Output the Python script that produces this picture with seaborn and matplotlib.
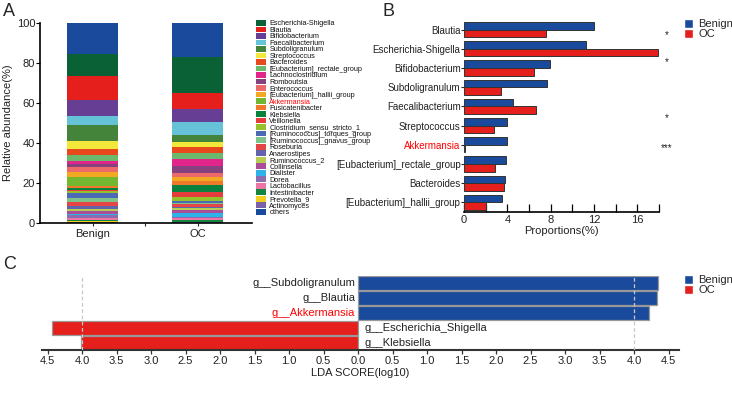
import numpy as np
import pandas as pd
import matplotlib
matplotlib.use("Agg")
import matplotlib.pyplot as plt
import seaborn as sns
from matplotlib.patches import Patch
from matplotlib.ticker import MultipleLocator, FixedLocator

sns.set_theme(style="white")
plt.rcParams["font.family"] = ["Liberation Sans", "DejaVu Sans"]

# ---------------- Panel A data ----------------
groups = ["Benign", "OC"]
genera = ["Escherichia-Shigella", "Blautia", "Bifidobacterium", "Faecalibacterium",
          "Subdoligranulum", "Streptococcus", "Bacteroides", "[Eubacterium]_rectale_group",
          "Lachnoclostridium", "Romboutsia", "Enterococcus", "[Eubacterium]_hallii_group",
          "Akkermansia", "Fusicatenibacter", "Klebsiella", "Veillonella",
          "Clostridium_sensu_stricto_1", "[Ruminococcus]_torques_group",
          "[Ruminococcus]_gnavus_group", "Roseburia", "Anaerostipes", "Ruminococcus_2",
          "Collinsella", "Dialister", "Dorea", "Lactobacillus", "Intestinibacter",
          "Prevotella_9", "Actinomyces", "others"]
genus_colors = ["#0b6136", "#e41f1c", "#663f94", "#66c2d6", "#43843a", "#f2e83c",
                "#e8491c", "#6cb86c", "#e2258a", "#85427f", "#ec6a6a", "#f3a823",
                "#72b72f", "#f07a2a", "#0b8140", "#e63c3c", "#95c22b", "#4a6ab5",
                "#7dc38a", "#e64545", "#6163ad", "#b7cc52", "#aa4e9a", "#2eb3e8",
                "#8a6cb0", "#ec74a6", "#15843f", "#f2cf1f", "#7b62a8", "#1a4a9c"]
benign_abund = [11.0, 12.0, 8.0, 4.5, 7.8, 4.0, 3.0, 2.8, 1.7, 1.7, 2.2, 2.8, 4.2, 1.2,
                0.8, 0.8, 1.0, 2.3, 1.8, 2.3, 1.3, 1.3, 1.2, 0.8, 1.2, 1.0, 0.6, 0.5,
                0.5, 15.7]
oc_abund = [18.2, 7.7, 6.5, 6.6, 3.5, 2.5, 3.3, 2.5, 3.7, 3.3, 2.2, 2.0, 0.05, 2.0,
            3.5, 2.5, 2.0, 0.8, 0.8, 1.2, 0.8, 1.0, 1.2, 2.0, 0.8, 0.7, 1.0, 0.3,
            0.3, 16.75]

# ---------------- Panel B data ----------------
b_genera = ["Blautia", "Escherichia-Shigella", "Bifidobacterium", "Subdoligranulum",
            "Faecalibacterium", "Streptococcus", "Akkermansia",
            "[Eubacterium]_rectale_group", "Bacteroides", "[Eubacterium]_hallii_group"]
b_benign = [12.0, 11.3, 7.9, 7.7, 4.5, 4.0, 4.0, 3.85, 3.75, 3.55]
b_oc = [7.6, 17.9, 6.5, 3.4, 6.65, 2.8, 0.05, 2.9, 3.65, 2.05]
b_sig_labels = ["*", "*", "*", "***"]
b_ticks = [0, 4, 8, 12, 16]

# ---------------- Panel C data ----------------
c_features = ["g__Subdoligranulum", "g__Blautia", "g__Akkermansia",
              "g__Escherichia_Shigella", "g__Klebsiella"]
c_scores = [4.34, 4.33, 4.22, -4.43, -4.01]
c_groups = ["Benign", "Benign", "Benign", "OC", "OC"]
c_ticks = [-4.5, -4.0, -3.5, -3.0, -2.5, -2.0, -1.5, -1.0, -0.5, 0.0,
           0.5, 1.0, 1.5, 2.0, 2.5, 3.0, 3.5, 4.0, 4.5]

BLUE = "#1a4a9c"
RED = "#e41f1c"
pal = {"Benign": BLUE, "OC": RED}

W, H = 732, 396
fig = plt.figure(figsize=(W / 100, H / 100), dpi=100)

def fa(x0, y_top, x1, y_bot):
    return [x0 / W, 1 - y_bot / H, (x1 - x0) / W, (y_bot - y_top) / H]

# ================= Panel A =================
axA = fig.add_axes(fa(40, 23, 252, 223))
abund = pd.DataFrame({"genus": genera, "Benign": benign_abund, "OC": oc_abund})
# stacking order from bottom: last listed genus first, "others" on top
stack_order = genera[:-1][::-1] + ["others"]
cum = abund.set_index("genus").loc[stack_order].cumsum()
cum = cum / cum.iloc[-1] * 100
color_map = dict(zip(genera, genus_colors))
for g in stack_order[::-1]:
    d = pd.DataFrame({"group": groups, "value": [cum.loc[g, "Benign"], cum.loc[g, "OC"]]})
    sns.barplot(data=d, x="group", y="value", color=color_map[g], saturation=1,
                width=0.486, ax=axA, linewidth=0)
axA.set_xlim(-0.503, 1.516)
axA.set_ylim(0, 100)
axA.set_yticks([0, 20, 40, 60, 80, 100])
axA.set_xlabel("")
axA.set_ylabel("Relative abundance(%)", fontsize=8, color="#222")
axA.yaxis.set_label_coords(-0.127, 0.5)
for s in ["top", "right"]:
    axA.spines[s].set_visible(False)
for s in ["left", "bottom"]:
    axA.spines[s].set_color("black")
    axA.spines[s].set_linewidth(1.2)
axA.tick_params(axis="y", which="both", left=True, direction="out", length=3, width=0.8,
                labelsize=8, pad=0.5, colors="black", labelcolor="#222")
axA.tick_params(axis="x", bottom=True, direction="out", length=2.5, width=0.8,
                labelsize=8, pad=1.5, labelcolor="#222")
axA.xaxis.set_minor_locator(FixedLocator([0.5]))
axA.tick_params(axis="x", which="minor", bottom=True, direction="out", length=2.5, width=0.8)

handlesA = [Patch(facecolor=c, edgecolor="none") for c in genus_colors]
legA = fig.legend(handlesA, genera, loc="upper left", bbox_to_anchor=(256 / W, 1 - 20 / H),
                  frameon=False, fontsize=5.2, handlelength=1.4, handleheight=0.85,
                  labelspacing=-0.12, handletextpad=0.45, borderpad=0, borderaxespad=0)
for t in legA.get_texts():
    t.set_color("red" if t.get_text() == "Akkermansia" else "#111")

# ================= Panel B =================
axB = fig.add_axes(fa(464, 20, 659, 212))
dfB = pd.DataFrame({
    "genus": b_genera * 2,
    "value": b_benign + b_oc,
    "group": ["Benign"] * len(b_genera) + ["OC"] * len(b_genera),
})
sns.barplot(data=dfB, y="genus", x="value", hue="group", palette=pal, orient="h",
            saturation=1, width=0.8, edgecolor="#333333", linewidth=0.7, ax=axB,
            legend=False)
axB.set_xlim(0, 18)
axB.set_xticks(b_ticks)
axB.xaxis.set_minor_locator(MultipleLocator(2))
axB.set_xlabel("Proportions(%)", fontsize=8, color="#222", labelpad=1)
axB.set_ylabel("")
for s in ["top", "right", "left"]:
    axB.spines[s].set_visible(False)
axB.spines["bottom"].set_color("black")
axB.spines["bottom"].set_linewidth(1.2)
axB.tick_params(axis="x", which="both", bottom=True, direction="in", length=6, width=0.9,
                labelsize=8, pad=2, colors="black", labelcolor="#222")
axB.tick_params(axis="y", left=True, direction="out", length=2, width=0.8, labelsize=7,
                pad=0.5, labelcolor="#222")
for t in axB.get_yticklabels():
    if t.get_text() == "Akkermansia":
        t.set_color("red")
star_rows = [0.3, 1.7, 4.6, 6.15]
for lab, yy in zip(b_sig_labels, star_rows):
    axB.text(18.75, yy, lab, ha="center", va="center", fontsize=7, color="#222",
             clip_on=False)
handlesB = [Patch(facecolor=BLUE), Patch(facecolor=RED)]
fig.legend(handlesB, ["Benign", "OC"], loc="upper left", bbox_to_anchor=(684 / W, 1 - 19 / H),
           frameon=False, fontsize=8, handlelength=0.8, handleheight=0.8,
           labelspacing=0.0, handletextpad=0.5, borderpad=0, borderaxespad=0)

# ================= Panel C =================
axC = fig.add_axes(fa(42, 276, 679, 350))
dfC = pd.DataFrame({"feature": c_features, "score": c_scores, "group": c_groups})
sns.barplot(data=dfC, y="feature", x="score", hue="group", palette=pal, orient="h",
            dodge=False, saturation=1, width=0.95, edgecolor="#999999", linewidth=0.9,
            ax=axC, legend=False)
axC.set_xlim(-4.58, 4.65)
axC.set_ylim(4.5, -0.5)
axC.set_xticks(c_ticks)
axC.set_xticklabels([f"{abs(v):.1f}" for v in c_ticks])
for v in (-4.0, 4.0):
    axC.axvline(v, color="#c8c8c8", ls=(0, (3, 2)), lw=0.9, zorder=5)
axC.set_yticks([])
axC.set_ylabel("")
axC.set_xlabel("LDA SCORE(log10)", fontsize=8, color="#222", labelpad=1)
for s in ["top", "right", "left"]:
    axC.spines[s].set_visible(False)
axC.spines["bottom"].set_color("#333")
axC.spines["bottom"].set_linewidth(1.5)
axC.tick_params(axis="x", bottom=True, direction="out", length=3, width=0.9, labelsize=8,
                pad=1.5, colors="#333", labelcolor="#222")
for i, (f, s) in enumerate(zip(c_features, c_scores)):
    if s > 0:
        axC.text(-0.04, i, f, ha="right", va="center", fontsize=8,
                 color=("red" if "Akkermansia" in f else "#222"))
    else:
        axC.text(0.1, i, f, ha="left", va="center", fontsize=8, color="#222")
fig.legend(handlesB, ["Benign", "OC"], loc="upper left", bbox_to_anchor=(684 / W, 1 - 275 / H),
           frameon=False, fontsize=8, handlelength=0.8, handleheight=0.8,
           labelspacing=0.0, handletextpad=0.5, borderpad=0, borderaxespad=0)

# panel letters
fig.text(3 / W, 1 - 3 / H, "A", fontsize=13, va="top", ha="left")
fig.text(383 / W, 1 - 3 / H, "B", fontsize=13, va="top", ha="left")
fig.text(3 / W, 1 - 256 / H, "C", fontsize=13, va="top", ha="left")

fig.savefig("out.png", dpi=100)
